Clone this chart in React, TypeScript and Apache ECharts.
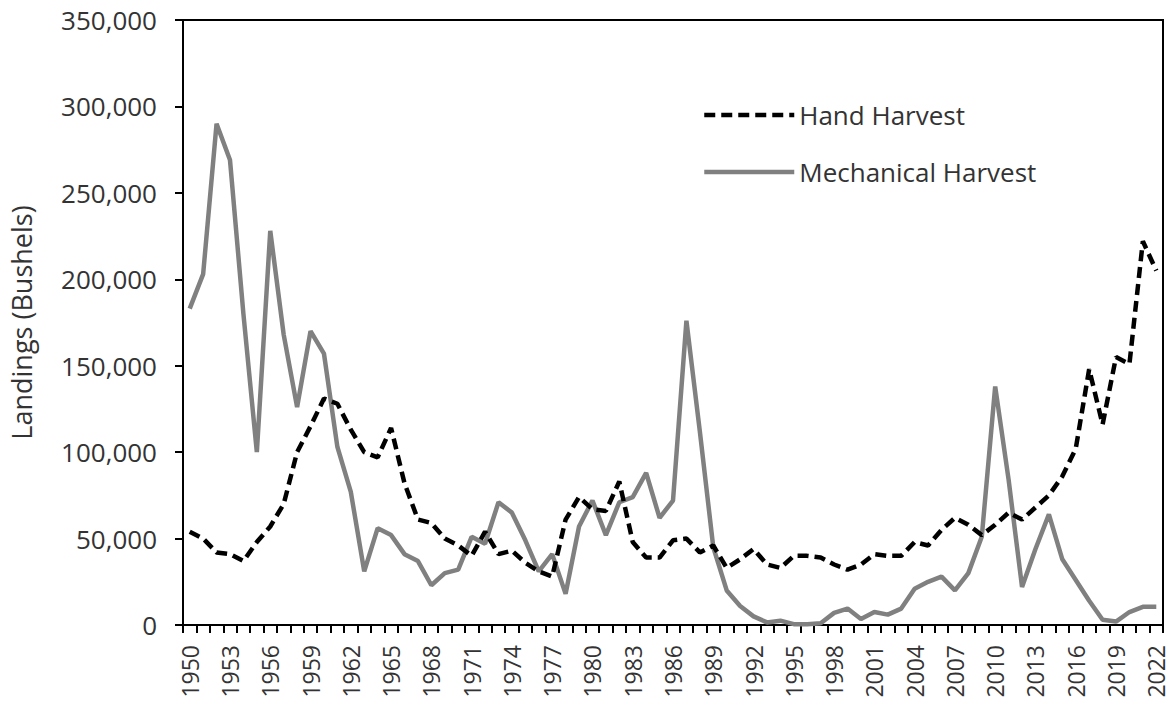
import React, { useEffect, useRef } from "react";
import * as echarts from "echarts";

const years: string[] = [];
for (let y = 1950; y <= 2022; y++) years.push(String(y));

const handHarvest = [
  54000, 50000, 42000, 41000, 37000, 48000, 57000, 70000, 100000, 115000,
  131000, 128000, 113000, 100000, 97000, 114000, 82000, 61000, 59000, 50000,
  46000, 40000, 54000, 41000, 43000, 36000, 31000, 28000, 61000, 74000,
  67000, 66000, 83000, 48000, 39000, 39000, 49000, 50000, 42000, 46000,
  33000, 38000, 44000, 35000, 33000, 40000, 40000, 39000, 35000, 32000,
  35000, 41000, 40000, 40000, 48000, 46000, 55000, 62000, 58000, 52000,
  58000, 65000, 61000, 68000, 75000, 86000, 102000, 148000, 116000, 155000,
  151000, 222000, 205000,
];

const mechanicalHarvest = [
  183000, 203000, 290000, 269000, 180000, 100000, 228000, 168000, 126000, 170000,
  157000, 103000, 77000, 31000, 56000, 52000, 41000, 37000, 23000, 30000,
  32000, 51000, 47000, 71000, 65000, 49000, 31000, 41000, 18000, 57000,
  72000, 52000, 71000, 74000, 88000, 62000, 72000, 176000, 112000, 45000,
  20000, 11000, 5000, 1500, 2500, 500, 500, 1000, 7000, 9500,
  3500, 7500, 6000, 9500, 21000, 25000, 28000, 20000, 30000, 51000,
  138000, 84000, 22000, 44000, 64000, 38000, 26000, 14000, 3000, 2000,
  7500, 10500, 10500,
];

const FONT = "'Open Sans', sans-serif";
const TEXT = "#333333";

export default function App() {
  const ref = useRef<HTMLDivElement>(null);
  useEffect(() => {
    document.body.style.margin = "0";
    const chart = echarts.init(ref.current!, null, { renderer: "svg" });
    chart.setOption({
      animation: false,
      backgroundColor: "#ffffff",
      grid: {
        left: 183,
        right: 9,
        top: 20,
        bottom: 84,
        show: true,
        borderColor: "#000000",
        borderWidth: 2,
      },
      legend: {
        orient: "vertical",
        left: 697,
        top: 95,
        itemWidth: 90,
        itemHeight: 30,
        itemGap: 27,
        itemStyle: { opacity: 0 },
        lineStyle: { width: 4.5 },
        data: ["Hand Harvest", "Mechanical Harvest"],
        textStyle: {
          fontFamily: FONT,
          fontSize: 26,
          color: TEXT,
          lineHeight: 30,
        },
      },
      xAxis: {
        type: "category",
        data: years,
        boundaryGap: true,
        axisLine: { show: true, lineStyle: { color: "#000000", width: 2 } },
        axisTick: { show: true, interval: 0, length: 8, lineStyle: { color: "#000000", width: 2 } },
        axisLabel: {
          interval: 2,
          rotate: 90,
          margin: 20,
          fontFamily: FONT,
          fontSize: 23,
          lineHeight: 18,
          color: TEXT,
        },
        splitLine: { show: false },
      },
      yAxis: {
        type: "value",
        min: 0,
        max: 350000,
        interval: 50000,
        name: "Landings (Bushels)",
        nameLocation: "middle",
        nameGap: 148,
        nameTextStyle: { fontFamily: FONT, fontSize: 27, color: TEXT },
        axisLine: { show: true, lineStyle: { color: "#000000", width: 2 } },
        axisTick: { show: true, length: 8, lineStyle: { color: "#000000", width: 2 } },
        axisLabel: {
          margin: 26,
          fontFamily: FONT,
          fontSize: 26,
          color: TEXT,
          formatter: (v: number) => v.toLocaleString("en-US"),
        },
        splitLine: { show: false },
      },
      series: [
        {
          name: "Hand Harvest",
          type: "line",
          data: handHarvest,
          symbol: "none",
          z: 3,
          lineStyle: { color: "#000000", width: 4.5, type: [11, 6] },
          itemStyle: { color: "#000000" },
        },
        {
          name: "Mechanical Harvest",
          type: "line",
          data: mechanicalHarvest,
          symbol: "none",
          z: 2,
          lineStyle: { color: "#808080", width: 4.5 },
          itemStyle: { color: "#808080" },
        },
      ],
    });
    return () => chart.dispose();
  }, []);
  return <div ref={ref} style={{ width: 1172, height: 709 }} />;
}
